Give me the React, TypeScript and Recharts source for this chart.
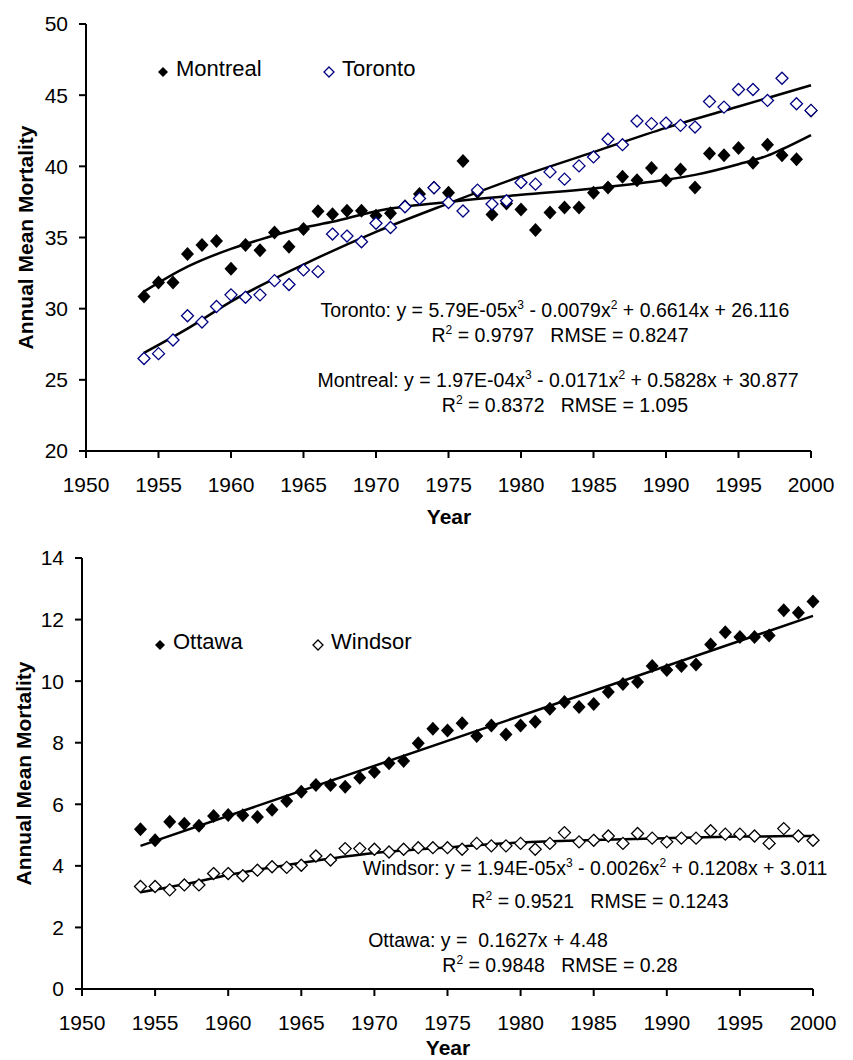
import { ComposedChart, Scatter, Line, XAxis, YAxis, Customized } from 'recharts';

const FONT = '"Liberation Sans", Arial, sans-serif';

const years = [
  1954, 1955, 1956, 1957, 1958, 1959, 1960, 1961, 1962, 1963, 1964, 1965, 1966, 1967, 1968, 1969,
  1970, 1971, 1972, 1973, 1974, 1975, 1976, 1977, 1978, 1979, 1980, 1981, 1982, 1983, 1984, 1985,
  1986, 1987, 1988, 1989, 1990, 1991, 1992, 1993, 1994, 1995, 1996, 1997, 1998, 1999, 2000,
];

// top panel
const montreal = [
  30.85, 31.84, 31.84, 33.84, 34.47, 34.75, 32.8, 34.47, 34.1, 35.36, 34.35, 35.6, 36.85, 36.64, 36.88, 36.88,
  36.53, 36.7, 37.2, 38.05, 38.5, 38.14, 40.38, 38.2, 36.62, 37.39, 36.97, 35.52, 36.76, 37.11, 37.11, 38.14,
  38.51, 39.26, 39.03, 39.89, 39.03, 39.77, 38.51, 40.9, 40.78, 41.29, 40.26, 41.52, 40.78, 40.5, 43.9,
];
const toronto = [
  26.5, 26.84, 27.8, 29.5, 29.06, 30.15, 30.97, 30.8, 30.97, 31.97, 31.7, 32.72, 32.6, 35.24, 35.1, 34.7,
  36.0, 35.7, 37.16, 37.74, 38.5, 37.46, 36.86, 38.33, 37.35, 37.58, 38.86, 38.75, 39.61, 39.1, 40.03, 40.66,
  41.9, 41.52, 43.18, 43.0, 43.04, 42.88, 42.76, 44.56, 44.16, 45.4, 45.4, 44.63, 46.19, 44.4, 43.93,
];
const montrealFitYears = [1954, 1957, 1960, 1962, 1965, 1967, 1970, 1975, 1980, 1985, 1990, 1992, 1995, 1997, 1998, 2000];
const montrealFit = [31.2, 32.95, 34.2, 34.85, 35.7, 36.1, 36.85, 37.5, 38.0, 38.45, 39.05, 39.4, 40.15, 40.75, 41.2, 42.2];
const torontoFitYears = [1954, 1957, 1960, 1965, 1970, 1975, 1980, 1985, 1990, 1995, 2000];
const torontoFit = [26.9, 28.6, 30.5, 33.1, 35.4, 37.4, 39.3, 41.0, 42.7, 44.2, 45.7];

// bottom panel
const ottawa = [
  5.19, 4.83, 5.43, 5.37, 5.3, 5.62, 5.65, 5.64, 5.59, 5.82, 6.11, 6.41, 6.63, 6.63, 6.57, 6.86,
  7.05, 7.33, 7.41, 7.98, 8.45, 8.4, 8.63, 8.22, 8.56, 8.27, 8.56, 8.68, 9.1, 9.32, 9.16, 9.26,
  9.65, 9.91, 9.97, 10.49, 10.36, 10.49, 10.54, 11.19, 11.59, 11.43, 11.43, 11.48, 12.3, 12.22, 12.59,
];
const windsor = [
  3.33, 3.33, 3.22, 3.38, 3.38, 3.75, 3.75, 3.68, 3.86, 3.97, 3.95, 4.02, 4.32, 4.19, 4.56, 4.56,
  4.54, 4.45, 4.54, 4.59, 4.59, 4.59, 4.54, 4.73, 4.65, 4.65, 4.73, 4.54, 4.73, 5.08, 4.78, 4.83,
  4.97, 4.73, 5.05, 4.9, 4.78, 4.9, 4.9, 5.14, 5.03, 5.03, 4.97, 4.73, 5.21, 4.97, 4.83,
];
const ottawaFitYears = [1954, 2000];
const ottawaFit = [4.65, 12.12];
const windsorFitYears = [1954, 1957, 1960, 1965, 1970, 1975, 1980, 1985, 1990, 1995, 2000];
const windsorFit = [3.14, 3.4, 3.7, 4.1, 4.42, 4.6, 4.76, 4.84, 4.9, 4.95, 4.97];

const xTicks = [1950, 1955, 1960, 1965, 1970, 1975, 1980, 1985, 1990, 1995, 2000];
const topTicks = [20, 25, 30, 35, 40, 45, 50];
const bottomTicks = [0, 2, 4, 6, 8, 10, 12, 14];

const pts = (xs: number[], vs: number[]) => xs.map((year, i) => ({ year, value: vs[i] }));

const FilledDiamond = (props: any) => {
  const { cx, cy } = props;
  if (cx == null || cy == null) return null;
  return <path d={`M${cx},${cy - 7}L${cx + 6.5},${cy}L${cx},${cy + 7}L${cx - 6.5},${cy}Z`} fill="#000" />;
};

const hollow = (color: string) => (props: any) => {
  const { cx, cy } = props;
  if (cx == null || cy == null) return null;
  return (
    <path
      d={`M${cx},${cy - 6}L${cx + 6},${cy}L${cx},${cy + 6}L${cx - 6},${cy}Z`}
      fill="#fff"
      stroke={color}
      strokeWidth={1.3}
    />
  );
};

const axisStyle = { stroke: '#000', strokeWidth: 2 };
const tickStyle = { fontSize: 21, fill: '#000', fontFamily: FONT };

const Sup = ({ t }: { t: string }) => (
  <>
    <tspan fontSize={12} dy={-8}>{t}</tspan>
    <tspan dy={8}> </tspan>
  </>
);

const eqStyle: any = { fontSize: 19.5, fontFamily: FONT, fill: '#000', whiteSpace: 'pre' };

function LegendItems({ items, y }: { items: { x: number; label: string; filled: boolean; color: string }[]; y: number }) {
  return (
    <g>
      {items.map((it) => (
        <g key={it.label}>
          <path
            d={`M${it.x},${y - 5}L${it.x + 5},${y}L${it.x},${y + 5}L${it.x - 5},${y}Z`}
            fill={it.filled ? '#000' : '#fff'}
            stroke={it.color}
            strokeWidth={it.filled ? 0 : 1.3}
          />
          <text x={it.x + 13} y={y + 4} fontSize={22} fontFamily={FONT} fill="#000">
            {it.label}
          </text>
        </g>
      ))}
    </g>
  );
}

function TopAnnotations() {
  return (
    <g>
      <LegendItems
        y={72}
        items={[
          { x: 163, label: 'Montreal', filled: true, color: '#000' },
          { x: 329, label: 'Toronto', filled: false, color: '#000080' },
        ]}
      />
      <text x={555} y={317} textAnchor="middle" style={eqStyle}>
        Toronto: y = 5.79E-05x<Sup t="3" />- 0.0079x<Sup t="2" />+ 0.6614x + 26.116
      </text>
      <text x={560} y={342} textAnchor="middle" style={eqStyle}>
        R<Sup t="2" />= 0.9797   RMSE = 0.8247
      </text>
      <text x={558} y={387} textAnchor="middle" style={eqStyle}>
        Montreal: y = 1.97E-04x<Sup t="3" />- 0.0171x<Sup t="2" />+ 0.5828x + 30.877
      </text>
      <text x={565} y={412} textAnchor="middle" style={eqStyle}>
        R<Sup t="2" />= 0.8372   RMSE = 1.095
      </text>
      <text x={33} y={237.5} transform="rotate(-90 33 237.5)" textAnchor="middle" fontSize={21} fontWeight="bold" fontFamily={FONT} fill="#000">
        Annual Mean Mortality
      </text>
      <text x={449} y={523.5} textAnchor="middle" fontSize={21} fontWeight="bold" fontFamily={FONT} fill="#000">
        Year
      </text>
    </g>
  );
}

function BottomAnnotations() {
  // chart sits 530px lower on the page
  const o = 530;
  return (
    <g>
      <LegendItems
        y={645 - o}
        items={[
          { x: 160, label: 'Ottawa', filled: true, color: '#000' },
          { x: 318, label: 'Windsor', filled: false, color: '#000' },
        ]}
      />
      <text x={595} y={875 - o} textAnchor="middle" style={eqStyle}>
        Windsor: y = 1.94E-05x<Sup t="3" />- 0.0026x<Sup t="2" />+ 0.1208x + 3.011
      </text>
      <text x={600} y={908 - o} textAnchor="middle" style={eqStyle}>
        R<Sup t="2" />= 0.9521   RMSE = 0.1243
      </text>
      <text x={488} y={947 - o} textAnchor="middle" style={eqStyle}>
        Ottawa: y =  0.1627x + 4.48
      </text>
      <text x={560} y={972 - o} textAnchor="middle" style={eqStyle}>
        R<Sup t="2" />= 0.9848   RMSE = 0.28
      </text>
      <text x={31} y={773.5 - o} transform={`rotate(-90 31 ${773.5 - o})`} textAnchor="middle" fontSize={21} fontWeight="bold" fontFamily={FONT} fill="#000">
        Annual Mean Mortality
      </text>
      <text x={448} y={1055 - o} textAnchor="middle" fontSize={21} fontWeight="bold" fontFamily={FONT} fill="#000">
        Year
      </text>
    </g>
  );
}

export default function App() {
  return (
    <div style={{ position: 'absolute', left: 0, top: 0, width: 853, height: 1060, background: '#fff' }}>
      <div style={{ position: 'absolute', left: 0, top: 0 }}>
        <ComposedChart width={853} height={530} margin={{ top: 24, right: 42, bottom: 0, left: 0 }}>
          <XAxis
            type="number"
            dataKey="year"
            domain={[1950, 2000]}
            ticks={xTicks}
            tick={tickStyle}
            tickSize={7}
            tickMargin={19}
            axisLine={axisStyle}
            tickLine={axisStyle}
            height={79}
          />
          <YAxis
            type="number"
            dataKey="value"
            domain={[20, 50]}
            ticks={topTicks}
            tick={tickStyle}
            tickSize={7}
            tickMargin={11}
            axisLine={axisStyle}
            tickLine={axisStyle}
            width={86}
          />
          <Scatter data={pts(years, montreal)} dataKey="value" shape={FilledDiamond} isAnimationActive={false} />
          <Scatter data={pts(years, toronto)} dataKey="value" shape={hollow('#000080')} isAnimationActive={false} />
          <Line data={pts(montrealFitYears, montrealFit)} dataKey="value" type="monotone" stroke="#000" strokeWidth={2.5} dot={false} isAnimationActive={false} />
          <Line data={pts(torontoFitYears, torontoFit)} dataKey="value" type="monotone" stroke="#000" strokeWidth={2.5} dot={false} isAnimationActive={false} />
          <Customized component={TopAnnotations} />
        </ComposedChart>
      </div>
      <div style={{ position: 'absolute', left: 0, top: 530 }}>
        <ComposedChart width={853} height={530} margin={{ top: 28, right: 40, bottom: 0, left: 0 }}>
          <XAxis
            type="number"
            dataKey="year"
            domain={[1950, 2000]}
            ticks={xTicks}
            tick={tickStyle}
            tickSize={7}
            tickMargin={19}
            axisLine={axisStyle}
            tickLine={axisStyle}
            height={71}
          />
          <YAxis
            type="number"
            dataKey="value"
            domain={[0, 14]}
            ticks={bottomTicks}
            tick={tickStyle}
            tickSize={7}
            tickMargin={11}
            axisLine={axisStyle}
            tickLine={axisStyle}
            width={82}
          />
          <Scatter data={pts(years, ottawa)} dataKey="value" shape={FilledDiamond} isAnimationActive={false} />
          <Scatter data={pts(years, windsor)} dataKey="value" shape={hollow('#000')} isAnimationActive={false} />
          <Line data={pts(ottawaFitYears, ottawaFit)} dataKey="value" type="linear" stroke="#000" strokeWidth={2.5} dot={false} isAnimationActive={false} />
          <Line data={pts(windsorFitYears, windsorFit)} dataKey="value" type="monotone" stroke="#000" strokeWidth={2.5} dot={false} isAnimationActive={false} />
          <Customized component={BottomAnnotations} />
        </ComposedChart>
      </div>
    </div>
  );
}
